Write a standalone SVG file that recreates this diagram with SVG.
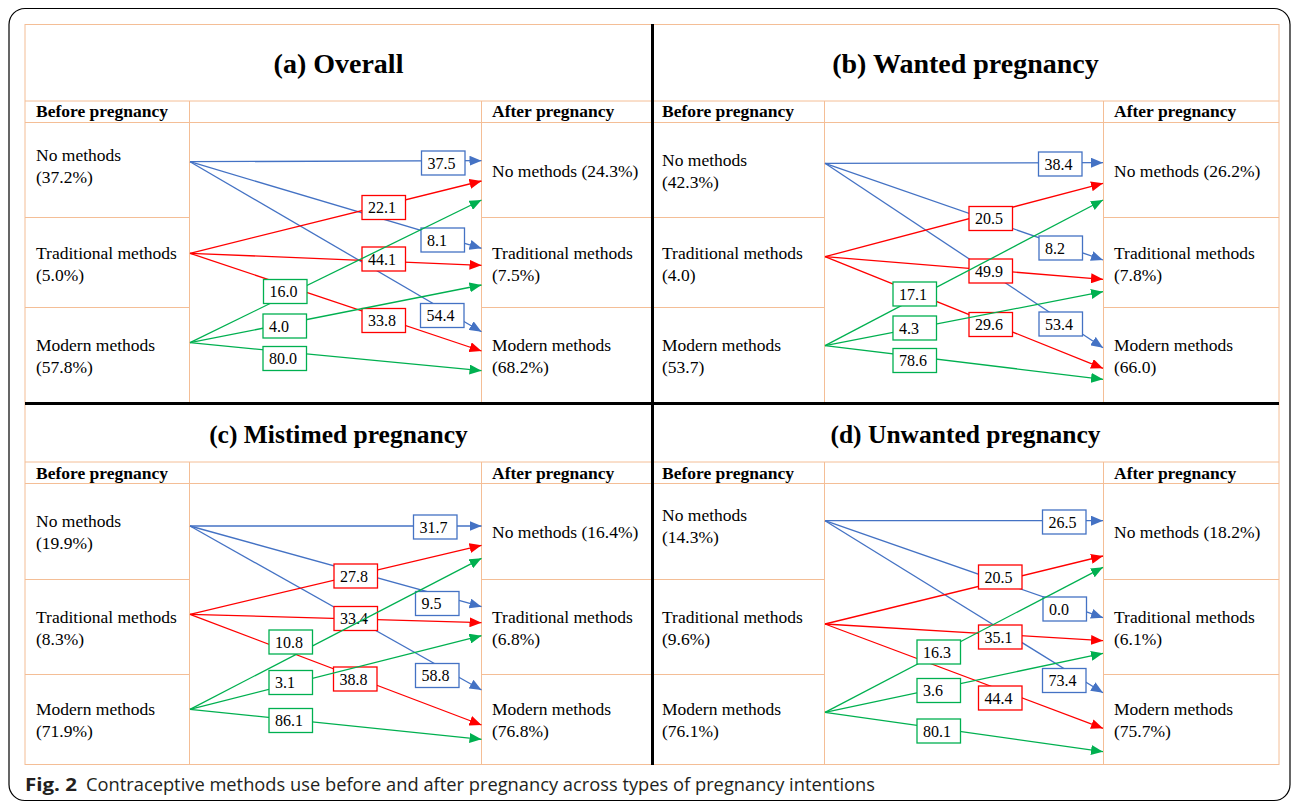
<svg xmlns="http://www.w3.org/2000/svg" width="1292" height="803" viewBox="0 0 1292 803">
<style>
.grid{stroke:#F4BE96;stroke-width:1;fill:none}
.div{stroke:#000;stroke-width:3;fill:none}
.ttl{font-family:"Liberation Serif","Times New Roman",serif;font-size:28px;font-weight:bold;fill:#000;text-anchor:middle}
.ttl2{font-family:"Liberation Serif","Times New Roman",serif;font-size:25.5px;font-weight:bold;fill:#000;text-anchor:middle}
.hdr{font-family:"Liberation Serif","Times New Roman",serif;font-size:17.5px;font-weight:bold;fill:#000}
.lbl{font-family:"Liberation Serif","Times New Roman",serif;font-size:17.5px;fill:#000}
.num{font-family:"Liberation Serif","Times New Roman",serif;font-size:16px;fill:#000}
.lb{stroke:#4472C4;stroke-width:1.3;fill:none;marker-end:url(#ab)}
.lr{stroke:#FF0000;stroke-width:1.3;fill:none;marker-end:url(#ar)}
.lg{stroke:#00B050;stroke-width:1.3;fill:none;marker-end:url(#ag)}
.bb{fill:#fff;stroke:#4472C4;stroke-width:1.3}
.br{fill:#fff;stroke:#FF0000;stroke-width:1.3}
.bg{fill:#fff;stroke:#00B050;stroke-width:1.3}
.cap{font-family:"Open Sans","Liberation Sans",sans-serif;font-size:18px;fill:#231F20}
</style>
<defs>
<marker id="ab" markerUnits="userSpaceOnUse" markerWidth="12" markerHeight="10" refX="12" refY="5" orient="auto"><path d="M0,0 L12,5 L0,10 z" fill="#4472C4"/></marker>
<marker id="ar" markerUnits="userSpaceOnUse" markerWidth="12" markerHeight="10" refX="12" refY="5" orient="auto"><path d="M0,0 L12,5 L0,10 z" fill="#FF0000"/></marker>
<marker id="ag" markerUnits="userSpaceOnUse" markerWidth="12" markerHeight="10" refX="12" refY="5" orient="auto"><path d="M0,0 L12,5 L0,10 z" fill="#00B050"/></marker>
</defs>
<rect x="0" y="0" width="1292" height="803" fill="#fff"/>
<rect x="9" y="8.5" width="1281" height="792" rx="16" fill="none" stroke="#000" stroke-width="1.2"/>

<g id="grid">
<rect class="grid" x="25" y="24.5" width="1254" height="740"/>
<line class="grid" x1="25" y1="101" x2="1279" y2="101"/>
<line class="grid" x1="25" y1="122.5" x2="1279" y2="122.5"/>
<line class="grid" x1="25" y1="462" x2="1279" y2="462"/>
<line class="grid" x1="25" y1="483.5" x2="1279" y2="483.5"/>
<line class="grid" x1="25" y1="217.5" x2="189.5" y2="217.5"/>
<line class="grid" x1="25" y1="307.5" x2="189.5" y2="307.5"/>
<line class="grid" x1="481.5" y1="217.5" x2="824.5" y2="217.5"/>
<line class="grid" x1="481.5" y1="307.5" x2="824.5" y2="307.5"/>
<line class="grid" x1="1103.5" y1="217.5" x2="1279" y2="217.5"/>
<line class="grid" x1="1103.5" y1="307.5" x2="1279" y2="307.5"/>
<line class="grid" x1="25" y1="579.5" x2="189.5" y2="579.5"/>
<line class="grid" x1="25" y1="674.5" x2="189.5" y2="674.5"/>
<line class="grid" x1="481.5" y1="579.5" x2="824.5" y2="579.5"/>
<line class="grid" x1="481.5" y1="674.5" x2="824.5" y2="674.5"/>
<line class="grid" x1="1103.5" y1="579.5" x2="1279" y2="579.5"/>
<line class="grid" x1="1103.5" y1="674.5" x2="1279" y2="674.5"/>
<line class="grid" x1="189.5" y1="101" x2="189.5" y2="403"/>
<line class="grid" x1="481.5" y1="101" x2="481.5" y2="403"/>
<line class="grid" x1="824.5" y1="101" x2="824.5" y2="403"/>
<line class="grid" x1="1103.5" y1="101" x2="1103.5" y2="403"/>
<line class="grid" x1="189.5" y1="462" x2="189.5" y2="764.5"/>
<line class="grid" x1="481.5" y1="462" x2="481.5" y2="764.5"/>
<line class="grid" x1="824.5" y1="462" x2="824.5" y2="764.5"/>
<line class="grid" x1="1103.5" y1="462" x2="1103.5" y2="764.5"/>
<line class="div" x1="652.5" y1="24" x2="652.5" y2="765"/>
<line class="div" x1="25" y1="403.5" x2="1279" y2="403.5"/>
</g>

<g id="panel-a">
<text class="ttl" x="338.5" y="73">(a) Overall</text>
<text class="hdr" x="36" y="117">Before pregnancy</text>
<text class="hdr" x="492" y="117">After pregnancy</text>
<g id="a-before-no"><text class="lbl" x="36" y="161">No methods</text><text class="lbl" x="36" y="183">(37.2%)</text></g>
<g id="a-before-trad"><text class="lbl" x="36" y="259">Traditional methods</text><text class="lbl" x="36" y="281">(5.0%)</text></g>
<g id="a-before-mod"><text class="lbl" x="36" y="351">Modern methods</text><text class="lbl" x="36" y="373">(57.8%)</text></g>
<g id="a-after-no"><text class="lbl" x="492" y="177">No methods (24.3%)</text></g>
<g id="a-after-trad"><text class="lbl" x="492" y="259">Traditional methods</text><text class="lbl" x="492" y="281">(7.5%)</text></g>
<g id="a-after-mod"><text class="lbl" x="492" y="351">Modern methods</text><text class="lbl" x="492" y="373">(68.2%)</text></g>
<g id="a-connectors">
<line class="lb" x1="190" y1="161.7" x2="481.5" y2="160.7"/>
<line class="lb" x1="190" y1="161.7" x2="481.5" y2="248.3"/>
<line class="lb" x1="190" y1="161.7" x2="481.5" y2="331.7"/>
<line class="lr" x1="190" y1="253.3" x2="481.5" y2="181"/>
<line class="lr" x1="190" y1="253.3" x2="481.5" y2="265.3"/>
<line class="lr" x1="190" y1="253.3" x2="481.5" y2="351"/>
<rect class="bb" x="421.5" y="151" width="43.5" height="24"/><text class="num" x="427.5" y="168.5">37.5</text>
<rect class="bb" x="421" y="228" width="43.5" height="24"/><text class="num" x="427" y="245.5">8.1</text>
<rect class="bb" x="420.5" y="303.5" width="43.5" height="24"/><text class="num" x="426.5" y="321">54.4</text>
<rect class="br" x="362" y="195.5" width="43.5" height="24"/><text class="num" x="368" y="213">22.1</text>
<rect class="br" x="362" y="247" width="43.5" height="24"/><text class="num" x="368" y="264.5">44.1</text>
<rect class="br" x="362" y="308.5" width="43.5" height="24"/><text class="num" x="368" y="326">33.8</text>
<line class="lg" x1="190" y1="342.7" x2="481.5" y2="200"/>
<line class="lg" x1="190" y1="342.7" x2="481.5" y2="285"/>
<line class="lg" x1="190" y1="342.7" x2="481.5" y2="370.7"/>
<rect class="bg" x="263.5" y="279.5" width="43.5" height="24"/><text class="num" x="269.5" y="297">16.0</text>
<rect class="bg" x="263" y="314" width="43.5" height="24"/><text class="num" x="269" y="331.5">4.0</text>
<rect class="bg" x="263" y="346.5" width="43.5" height="24"/><text class="num" x="269" y="364">80.0</text>
</g>
</g>

<g id="panel-b">
<text class="ttl" x="965.5" y="73">(b) Wanted pregnancy</text>
<text class="hdr" x="662" y="117">Before pregnancy</text>
<text class="hdr" x="1114" y="117">After pregnancy</text>
<g id="b-before-no"><text class="lbl" x="662" y="166">No methods</text><text class="lbl" x="662" y="188">(42.3%)</text></g>
<g id="b-before-trad"><text class="lbl" x="662" y="259">Traditional methods</text><text class="lbl" x="662" y="281">(4.0)</text></g>
<g id="b-before-mod"><text class="lbl" x="662" y="351">Modern methods</text><text class="lbl" x="662" y="373">(53.7)</text></g>
<g id="b-after-no"><text class="lbl" x="1114" y="177">No methods (26.2%)</text></g>
<g id="b-after-trad"><text class="lbl" x="1114" y="259">Traditional methods</text><text class="lbl" x="1114" y="281">(7.8%)</text></g>
<g id="b-after-mod"><text class="lbl" x="1114" y="351">Modern methods</text><text class="lbl" x="1114" y="373">(66.0)</text></g>
<g id="b-connectors">
<line class="lb" x1="825" y1="163.3" x2="1103" y2="162.7"/>
<line class="lb" x1="825" y1="163.3" x2="1103" y2="260"/>
<line class="lb" x1="825" y1="163.3" x2="1103" y2="347.7"/>
<line class="lr" x1="825" y1="256.7" x2="1103" y2="183.3"/>
<line class="lr" x1="825" y1="256.7" x2="1103" y2="279.3"/>
<line class="lr" x1="825" y1="256.7" x2="1103" y2="368.3"/>
<rect class="bb" x="1038.5" y="152" width="43.5" height="24"/><text class="num" x="1044.5" y="169.5">38.4</text>
<rect class="bb" x="1039" y="236" width="43.5" height="24"/><text class="num" x="1045" y="253.5">8.2</text>
<rect class="bb" x="1039" y="312" width="43.5" height="24"/><text class="num" x="1045" y="329.5">53.4</text>
<rect class="br" x="969" y="206.5" width="43.5" height="24"/><text class="num" x="975" y="224">20.5</text>
<rect class="br" x="969" y="259" width="43.5" height="24"/><text class="num" x="975" y="276.5">49.9</text>
<rect class="br" x="969" y="312.5" width="43.5" height="24"/><text class="num" x="975" y="330">29.6</text>
<line class="lg" x1="825" y1="345.7" x2="1103" y2="200"/>
<line class="lg" x1="825" y1="345.7" x2="1103" y2="291.7"/>
<line class="lg" x1="825" y1="345.7" x2="1103" y2="379.3"/>
<rect class="bg" x="893" y="282" width="43.5" height="24"/><text class="num" x="899" y="299.5">17.1</text>
<rect class="bg" x="893" y="316" width="43.5" height="24"/><text class="num" x="899" y="333.5">4.3</text>
<rect class="bg" x="893" y="348.5" width="43.5" height="24"/><text class="num" x="899" y="366">78.6</text>
</g>
</g>

<g id="panel-c">
<text class="ttl2" x="338.5" y="443">(c) Mistimed pregnancy</text>
<text class="hdr" x="36" y="479">Before pregnancy</text>
<text class="hdr" x="492" y="479">After pregnancy</text>
<g id="c-before-no"><text class="lbl" x="36" y="527">No methods</text><text class="lbl" x="36" y="549">(19.9%)</text></g>
<g id="c-before-trad"><text class="lbl" x="36" y="623">Traditional methods</text><text class="lbl" x="36" y="645">(8.3%)</text></g>
<g id="c-before-mod"><text class="lbl" x="36" y="715">Modern methods</text><text class="lbl" x="36" y="737">(71.9%)</text></g>
<g id="c-after-no"><text class="lbl" x="492" y="538">No methods (16.4%)</text></g>
<g id="c-after-trad"><text class="lbl" x="492" y="623">Traditional methods</text><text class="lbl" x="492" y="645">(6.8%)</text></g>
<g id="c-after-mod"><text class="lbl" x="492" y="715">Modern methods</text><text class="lbl" x="492" y="737">(76.8%)</text></g>
<g id="c-connectors">
<line class="lb" x1="190" y1="526" x2="481.5" y2="526"/>
<line class="lb" x1="190" y1="526" x2="481.5" y2="606.7"/>
<line class="lb" x1="190" y1="526" x2="481.5" y2="690"/>
<line class="lr" x1="190" y1="614.3" x2="481.5" y2="545.3"/>
<line class="lr" x1="190" y1="614.3" x2="481.5" y2="622.7"/>
<line class="lr" x1="190" y1="614.3" x2="481.5" y2="725"/>
<rect class="bb" x="413.5" y="515" width="43.5" height="24"/><text class="num" x="419.5" y="532.5">31.7</text>
<rect class="bb" x="415.5" y="591.5" width="43.5" height="24"/><text class="num" x="421.5" y="609">9.5</text>
<rect class="bb" x="415.5" y="663.5" width="43.5" height="24"/><text class="num" x="421.5" y="681">58.8</text>
<rect class="br" x="334" y="564" width="43.5" height="24"/><text class="num" x="340" y="581.5">27.8</text>
<rect class="br" x="334" y="606.5" width="43.5" height="24"/><text class="num" x="340" y="624">33.4</text>
<rect class="br" x="333.5" y="667" width="43.5" height="24"/><text class="num" x="339.5" y="684.5">38.8</text>
<line class="lg" x1="190" y1="709.3" x2="481.5" y2="558.3"/>
<line class="lg" x1="190" y1="709.3" x2="481.5" y2="635.7"/>
<line class="lg" x1="190" y1="709.3" x2="481.5" y2="739.3"/>
<rect class="bg" x="269" y="630" width="43.5" height="24"/><text class="num" x="275" y="647.5">10.8</text>
<rect class="bg" x="269" y="670.5" width="43.5" height="24"/><text class="num" x="275" y="688">3.1</text>
<rect class="bg" x="269" y="708.5" width="43.5" height="24"/><text class="num" x="275" y="726">86.1</text>
</g>
</g>

<g id="panel-d">
<text class="ttl2" x="965.5" y="443">(d) Unwanted pregnancy</text>
<text class="hdr" x="662" y="479">Before pregnancy</text>
<text class="hdr" x="1114" y="479">After pregnancy</text>
<g id="d-before-no"><text class="lbl" x="662" y="521">No methods</text><text class="lbl" x="662" y="543">(14.3%)</text></g>
<g id="d-before-trad"><text class="lbl" x="662" y="623">Traditional methods</text><text class="lbl" x="662" y="645">(9.6%)</text></g>
<g id="d-before-mod"><text class="lbl" x="662" y="715">Modern methods</text><text class="lbl" x="662" y="737">(76.1%)</text></g>
<g id="d-after-no"><text class="lbl" x="1114" y="538">No methods (18.2%)</text></g>
<g id="d-after-trad"><text class="lbl" x="1114" y="623">Traditional methods</text><text class="lbl" x="1114" y="645">(6.1%)</text></g>
<g id="d-after-mod"><text class="lbl" x="1114" y="715">Modern methods</text><text class="lbl" x="1114" y="737">(75.7%)</text></g>
<g id="d-connectors">
<line class="lb" x1="825" y1="520.7" x2="1103" y2="520.7"/>
<line class="lb" x1="825" y1="520.7" x2="1103" y2="617.7"/>
<line class="lb" x1="825" y1="520.7" x2="1103" y2="692.7"/>
<line class="lr" x1="825" y1="624" x2="1103" y2="556"/>
<line class="lr" x1="825" y1="624" x2="1103" y2="640.7"/>
<line class="lr" x1="825" y1="624" x2="1103" y2="728.3"/>
<rect class="bb" x="1042.5" y="510" width="43.5" height="24"/><text class="num" x="1048.5" y="527.5">26.5</text>
<rect class="bb" x="1043" y="597" width="43.5" height="24"/><text class="num" x="1049" y="614.5">0.0</text>
<rect class="bb" x="1042.5" y="668.5" width="43.5" height="24"/><text class="num" x="1048.5" y="686">73.4</text>
<rect class="br" x="978.5" y="565" width="43.5" height="24"/><text class="num" x="984.5" y="582.5">20.5</text>
<rect class="br" x="978.5" y="625" width="43.5" height="24"/><text class="num" x="984.5" y="642.5">35.1</text>
<rect class="br" x="978.5" y="686" width="43.5" height="24"/><text class="num" x="984.5" y="703.5">44.4</text>
<line class="lg" x1="825" y1="712.3" x2="1103" y2="567.3"/>
<line class="lg" x1="825" y1="712.3" x2="1103" y2="653.3"/>
<line class="lg" x1="825" y1="712.3" x2="1103" y2="751.7"/>
<rect class="bg" x="917" y="640" width="43.5" height="24"/><text class="num" x="923" y="657.5">16.3</text>
<rect class="bg" x="917" y="678.5" width="43.5" height="24"/><text class="num" x="923" y="696">3.6</text>
<rect class="bg" x="917" y="719" width="43.5" height="24"/><text class="num" x="923" y="736.5">80.1</text>
</g>
</g>

<g id="caption">
<text class="cap" x="25" y="791" font-weight="bold" textLength="52" lengthAdjust="spacingAndGlyphs">Fig. 2</text>
<text class="cap" x="86" y="791" textLength="789" lengthAdjust="spacingAndGlyphs">Contraceptive methods use before and after pregnancy across types of pregnancy intentions</text>
</g>
</svg>
